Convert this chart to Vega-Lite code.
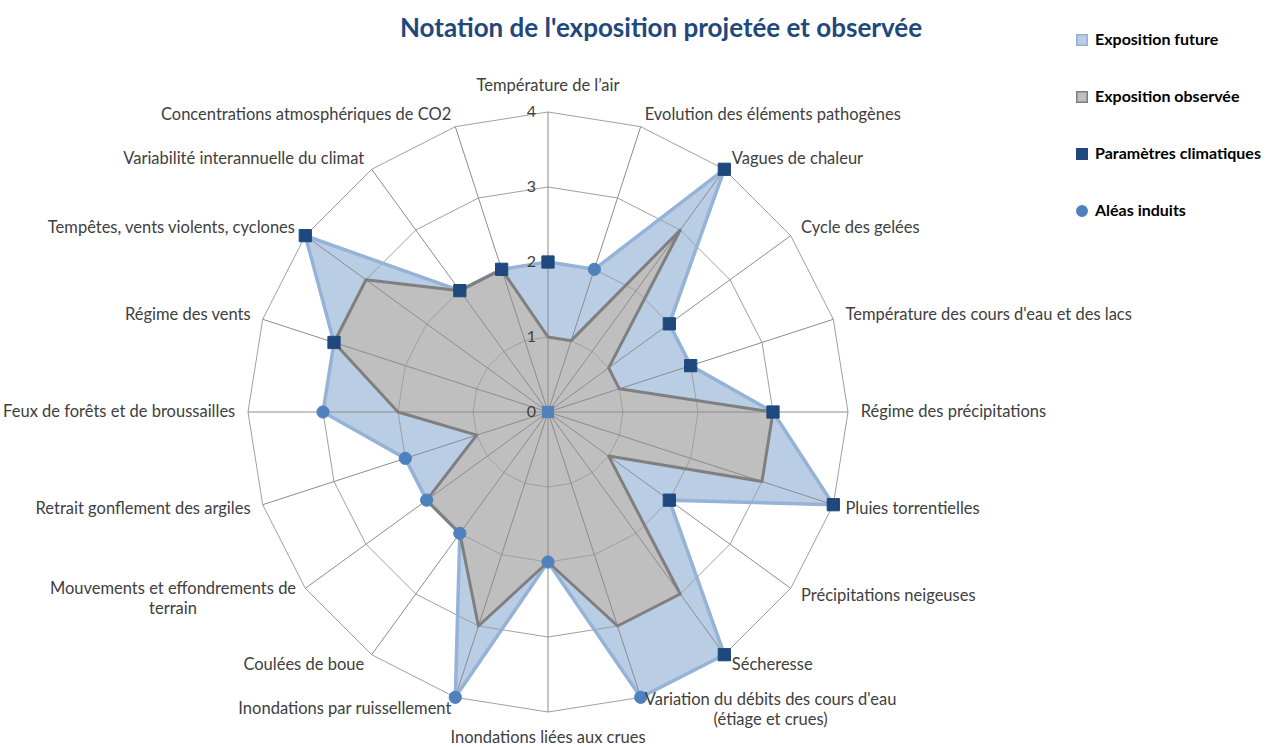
{
  "$schema": "https://vega.github.io/schema/vega-lite/v6.json",
  "width": 1274,
  "height": 689,
  "autosize": {"type": "none"},
  "padding": {"left": 0, "top": 58, "right": 0, "bottom": 0},
  "background": "white",
  "config": {
    "view": {"stroke": null},
    "font": "Lato",
    "legend": {
      "orient": "none",
      "legendX": 1074,
      "legendY": -26,
      "symbolSize": 110,
      "symbolStrokeWidth": 1.5,
      "labelFont": "Lato",
      "labelFontSize": 16,
      "labelFontWeight": "bold",
      "labelColor": "#000000",
      "labelLimit": 400,
      "rowPadding": 39,
      "labelOffset": 5
    }
  },
  "title": {
    "text": "Notation de l'exposition projetée et observée",
    "font": "Lato",
    "fontSize": 26,
    "fontWeight": "bold",
    "color": "#1F497D",
    "anchor": "middle",
    "dx": 24,
    "offset": -10
  },
  "datasets": {
    "main": [
      {"cat": "Température de l’air", "future": 2, "observed": 1, "type": "Paramètres climatiques"},
      {"cat": "Evolution des éléments pathogènes", "future": 2, "observed": 1, "type": "Aléas induits"},
      {"cat": "Vagues de chaleur", "future": 4, "observed": 3, "type": "Paramètres climatiques"},
      {"cat": "Cycle des gelées", "future": 2, "observed": 1, "type": "Paramètres climatiques"},
      {"cat": "Température des cours d'eau et des lacs", "future": 2, "observed": 1, "type": "Paramètres climatiques"},
      {"cat": "Régime des précipitations", "future": 3, "observed": 3, "type": "Paramètres climatiques"},
      {"cat": "Pluies torrentielles", "future": 4, "observed": 3, "type": "Paramètres climatiques"},
      {"cat": "Précipitations neigeuses", "future": 2, "observed": 1, "type": "Paramètres climatiques"},
      {"cat": "Sécheresse", "future": 4, "observed": 3, "type": "Paramètres climatiques"},
      {"cat": "Variation du débits des cours d'eau\n(étiage et crues)", "future": 4, "observed": 3, "type": "Aléas induits"},
      {"cat": "Inondations liées aux crues", "future": 2, "observed": 2, "type": "Aléas induits"},
      {"cat": "Inondations par ruissellement", "future": 4, "observed": 3, "type": "Aléas induits"},
      {"cat": "Coulées de boue", "future": 2, "observed": 2, "type": "Aléas induits"},
      {"cat": "Mouvements et effondrements de\nterrain", "future": 2, "observed": 2, "type": "Aléas induits"},
      {"cat": "Retrait gonflement des argiles", "future": 2, "observed": 1, "type": "Aléas induits"},
      {"cat": "Feux de forêts et de broussailles", "future": 3, "observed": 2, "type": "Aléas induits"},
      {"cat": "Régime des vents", "future": 3, "observed": 3, "type": "Paramètres climatiques"},
      {"cat": "Tempêtes, vents violents, cyclones", "future": 4, "observed": 3, "type": "Paramètres climatiques"},
      {"cat": "Variabilité interannuelle du climat", "future": 2, "observed": 2, "type": "Paramètres climatiques"},
      {"cat": "Concentrations atmosphériques de CO2", "future": 2, "observed": 2, "type": "Paramètres climatiques"}
    ],
    "levels": [{"level": 0}, {"level": 1}, {"level": 2}, {"level": 3}, {"level": 4}]
  },
  "data": {"name": "main"},
  "transform": [
    {"window": [{"op": "row_number", "as": "i"}]},
    {"calculate": "(datum.i - 1) * PI / 10", "as": "a"}
  ],
  "encoding": {
    "x": {"field": "px", "type": "quantitative", "scale": {"domain": [-7.30667, 9.68], "nice": false, "zero": false}, "axis": null},
    "y": {"field": "py", "type": "quantitative", "scale": {"domain": [-4.46667, 4.72], "nice": false, "zero": false}, "axis": null}
  },
  "layer": [
    {
      "transform": [{"calculate": "datum.future * sin(datum.a)", "as": "px"}, {"calculate": "datum.future * cos(datum.a)", "as": "py"}],
      "mark": {"type": "line", "interpolate": "linear-closed", "fill": "#B9CDE5", "fillOpacity": 1, "strokeWidth": 0},
      "encoding": {"order": {"field": "i", "type": "quantitative"}}
    },
    {
      "transform": [{"calculate": "datum.observed * sin(datum.a)", "as": "px"}, {"calculate": "datum.observed * cos(datum.a)", "as": "py"}],
      "mark": {"type": "line", "interpolate": "linear-closed", "fill": "#BFBFBF", "fillOpacity": 1, "strokeWidth": 0},
      "encoding": {"order": {"field": "i", "type": "quantitative"}}
    },
    {
      "transform": [{"calculate": "1 * sin(datum.a)", "as": "px"}, {"calculate": "1 * cos(datum.a)", "as": "py"}],
      "mark": {"type": "line", "interpolate": "linear-closed", "stroke": "#A0A0A0", "strokeWidth": 1},
      "encoding": {"order": {"field": "i", "type": "quantitative"}}
    },
    {
      "transform": [{"calculate": "2 * sin(datum.a)", "as": "px"}, {"calculate": "2 * cos(datum.a)", "as": "py"}],
      "mark": {"type": "line", "interpolate": "linear-closed", "stroke": "#A0A0A0", "strokeWidth": 1},
      "encoding": {"order": {"field": "i", "type": "quantitative"}}
    },
    {
      "transform": [{"calculate": "3 * sin(datum.a)", "as": "px"}, {"calculate": "3 * cos(datum.a)", "as": "py"}],
      "mark": {"type": "line", "interpolate": "linear-closed", "stroke": "#A0A0A0", "strokeWidth": 1},
      "encoding": {"order": {"field": "i", "type": "quantitative"}}
    },
    {
      "transform": [{"calculate": "4 * sin(datum.a)", "as": "px"}, {"calculate": "4 * cos(datum.a)", "as": "py"}],
      "mark": {"type": "line", "interpolate": "linear-closed", "stroke": "#A0A0A0", "strokeWidth": 1},
      "encoding": {"order": {"field": "i", "type": "quantitative"}}
    },
    {
      "transform": [{"calculate": "4 * sin(datum.a)", "as": "px"}, {"calculate": "4 * cos(datum.a)", "as": "py"}],
      "mark": {"type": "rule", "color": "#8C8C8C", "strokeWidth": 1},
      "encoding": {"x2": {"datum": 0}, "y2": {"datum": 0}}
    },
    {
      "transform": [{"calculate": "datum.future * sin(datum.a)", "as": "px"}, {"calculate": "datum.future * cos(datum.a)", "as": "py"}],
      "mark": {"type": "line", "interpolate": "linear-closed", "stroke": "#95B3D7", "strokeWidth": 3.5, "strokeJoin": "round"},
      "encoding": {"order": {"field": "i", "type": "quantitative"}}
    },
    {
      "transform": [{"calculate": "datum.observed * sin(datum.a)", "as": "px"}, {"calculate": "datum.observed * cos(datum.a)", "as": "py"}],
      "mark": {"type": "line", "interpolate": "linear-closed", "stroke": "#7F7F7F", "strokeWidth": 3, "strokeJoin": "round"},
      "encoding": {"order": {"field": "i", "type": "quantitative"}}
    },
    {
      "transform": [{"calculate": "datum.future * sin(datum.a)", "as": "px"}, {"calculate": "datum.future * cos(datum.a)", "as": "py"}],
      "mark": {"type": "point", "filled": true, "size": 150, "strokeWidth": 1, "opacity": 1},
      "encoding": {
        "color": {"field": "type", "type": "nominal", "scale": {"domain": ["Exposition future", "Exposition observée", "Paramètres climatiques", "Aléas induits"], "range": ["#B9CDE5", "#BFBFBF", "#1F497D", "#4F81BD"]}, "legend": {"title": null}},
        "shape": {"field": "type", "type": "nominal", "scale": {"domain": ["Exposition future", "Exposition observée", "Paramètres climatiques", "Aléas induits"], "range": ["square", "square", "square", "circle"]}, "legend": {"title": null}},
        "stroke": {"field": "type", "type": "nominal", "scale": {"domain": ["Exposition future", "Exposition observée", "Paramètres climatiques", "Aléas induits"], "range": ["#95B3D7", "#7F7F7F", "#1F497D", "#4F81BD"]}, "legend": {"title": null}}
      }
    },
    {
      "data": {"name": "levels"},
      "transform": [{"filter": "datum.level == 0"}, {"calculate": "0", "as": "px"}, {"calculate": "datum.level", "as": "py"}],
      "mark": {"type": "point", "shape": "square", "filled": true, "size": 150, "color": "#4F81BD", "opacity": 1}
    },
    {
      "data": {"name": "levels"},
      "transform": [{"calculate": "0", "as": "px"}, {"calculate": "datum.level", "as": "py"}],
      "mark": {"type": "text", "align": "right", "baseline": "middle", "dx": -12, "font": "Lato", "fontSize": 16, "color": "#404040"},
      "encoding": {"text": {"field": "level", "type": "quantitative"}}
    },
    {
      "transform": [{"filter": "datum.i == 1"}, {"calculate": "0", "as": "px"}, {"calculate": "4.35", "as": "py"}],
      "mark": {"type": "text", "align": "center", "baseline": "middle", "font": "Lato", "fontSize": 16.5, "color": "#404040"},
      "encoding": {"text": {"field": "cat"}}
    },
    {
      "transform": [{"filter": "datum.i == 11"}, {"calculate": "0", "as": "px"}, {"calculate": "-4.35", "as": "py"}],
      "mark": {"type": "text", "align": "center", "baseline": "middle", "font": "Lato", "fontSize": 16.5, "color": "#404040"},
      "encoding": {"text": {"field": "cat"}}
    },
    {
      "transform": [{"filter": "datum.i >= 2 && datum.i <= 9"}, {"calculate": "4.17 * sin(datum.a)", "as": "px"}, {"calculate": "4.17 * cos(datum.a)", "as": "py"}],
      "mark": {"type": "text", "align": "left", "baseline": "middle", "font": "Lato", "fontSize": 16.5, "color": "#404040"},
      "encoding": {"text": {"field": "cat"}}
    },
    {
      "transform": [{"filter": "datum.i >= 12 && datum.i != 14"}, {"calculate": "4.17 * sin(datum.a)", "as": "px"}, {"calculate": "4.17 * cos(datum.a)", "as": "py"}],
      "mark": {"type": "text", "align": "right", "baseline": "middle", "font": "Lato", "fontSize": 16.5, "color": "#404040"},
      "encoding": {"text": {"field": "cat"}}
    },
    {
      "transform": [{"filter": "datum.i == 10"}, {"calculate": "4.17 * sin(datum.a)", "as": "px"}, {"calculate": "4.17 * cos(datum.a)", "as": "py"}],
      "mark": {"type": "text", "align": "center", "baseline": "middle", "dx": 126, "dy": -9, "lineBreak": "\n", "lineHeight": 20, "font": "Lato", "fontSize": 16.5, "color": "#404040"},
      "encoding": {"text": {"field": "cat"}}
    },
    {
      "transform": [{"filter": "datum.i == 14"}, {"calculate": "4.17 * sin(datum.a)", "as": "px"}, {"calculate": "4.17 * cos(datum.a)", "as": "py"}],
      "mark": {"type": "text", "align": "center", "baseline": "middle", "dx": -122, "dy": -7, "lineBreak": "\n", "lineHeight": 20, "font": "Lato", "fontSize": 16.5, "color": "#404040"},
      "encoding": {"text": {"field": "cat"}}
    }
  ]
}
